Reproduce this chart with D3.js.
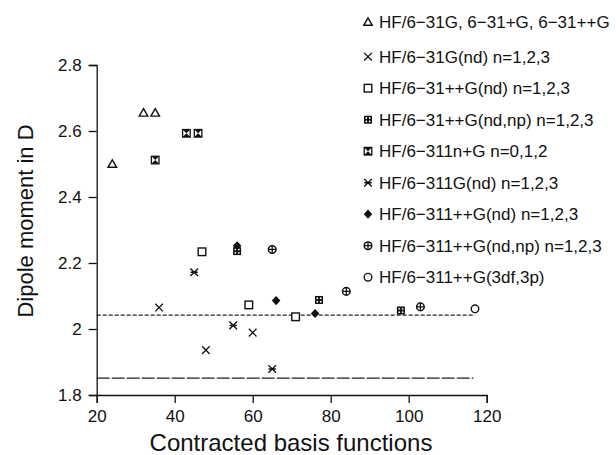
<!DOCTYPE html>
<html>
<head>
<meta charset="utf-8">
<script src="https://cdn.jsdelivr.net/npm/d3@7"></script>
<style>
  body { margin: 0; background: #fff; }
  text { font-family: "Liberation Sans", Arial, sans-serif; fill: #111; }
</style>
</head>
<body>
<svg id="chart" width="616" height="455"></svg>
<script>
// series, in legend order
var seriesNames = [
  "HF/6\u221231G, 6\u221231+G, 6\u221231++G",
  "HF/6\u221231G(nd) n=1,2,3",
  "HF/6\u221231++G(nd) n=1,2,3",
  "HF/6\u221231++G(nd,np) n=1,2,3",
  "HF/6\u2212311n+G n=0,1,2",
  "HF/6\u2212311G(nd) n=1,2,3",
  "HF/6\u2212311++G(nd) n=1,2,3",
  "HF/6\u2212311++G(nd,np) n=1,2,3",
  "HF/6\u2212311++G(3df,3p)"
];
var seriesShapes = ["triangle", "cross", "square", "dotbox", "hourglass", "star", "diamond", "circplus", "circle"];
var seriesX = [
  [24, 32, 35],
  [36, 48, 60],
  [47, 59, 71],
  [56, 77, 98],
  [35, 43, 46],
  [45, 55, 65],
  [56, 66, 76],
  [65, 84, 103],
  [117]
];
var seriesY = [
  [2.50, 2.655, 2.655],
  [2.065, 1.936, 1.989],
  [2.234, 2.073, 2.037],
  [2.236, 2.088, 2.056],
  [2.512, 2.593, 2.593],
  [2.172, 2.011, 1.879],
  [2.252, 2.086, 2.047],
  [2.241, 2.114, 2.067],
  [2.061]
];
// horizontal reference levels
var refLevels = [2.042, 1.851];
var refDash = ["4,2", "13,2"];
var refEnd = [117, 116.6];

var xTicks = [20, 40, 60, 80, 100, 120];
var yTicks = [1.8, 2, 2.2, 2.4, 2.6, 2.8];

var svg = d3.select("#chart");

var x = d3.scaleLinear().domain([20, 120]).range([96.7, 486.7]);
var y = d3.scaleLinear().domain([1.8, 2.8]).range([395, 65]);

var xAxis = svg.append("g")
    .attr("transform", "translate(0," + y(1.8) + ")")
    .call(d3.axisBottom(x).tickValues(xTicks).tickSize(8).tickPadding(7));
var yAxis = svg.append("g")
    .attr("transform", "translate(" + x(20) + ",0)")
    .call(d3.axisLeft(y).tickValues(yTicks).tickFormat(d3.format("~g")).tickSize(8).tickPadding(7));

[xAxis, yAxis].forEach(function(a) {
  a.selectAll("path, line").attr("stroke", "#111").attr("stroke-width", 1.3);
  a.selectAll("text").style("font-size", "17px").attr("font-family", null);
});

svg.append("text")
    .attr("x", 291).attr("y", 451)
    .attr("text-anchor", "middle")
    .style("font-size", "24px")
    .text("Contracted basis functions");

svg.append("text")
    .attr("transform", "translate(33,221) rotate(-90)")
    .attr("text-anchor", "middle")
    .style("font-size", "22px")
    .text("Dipole moment in D");

// reference lines
refLevels.forEach(function(v, i) {
  svg.append("line")
      .attr("x1", x(20)).attr("x2", x(refEnd[i]))
      .attr("y1", y(v)).attr("y2", y(v))
      .attr("stroke", "#222").attr("stroke-width", 1.1)
      .attr("stroke-dasharray", refDash[i]);
});

// marker drawing
function drawMarker(g, shape) {
  var k = "#111";
  if (shape == "triangle") {
    g.append("path").attr("d", "M0,-4.2L4.3,3.3L-4.3,3.3Z")
      .attr("fill", "#fff").attr("stroke", k).attr("stroke-width", 1.4);
  } else if (shape == "cross") {
    g.append("path").attr("d", "M-3.8,-3.8L3.8,3.8M-3.8,3.8L3.8,-3.8")
      .attr("stroke", k).attr("stroke-width", 1.3);
  } else if (shape == "square") {
    g.append("rect").attr("x", -3.8).attr("y", -3.8).attr("width", 7.6).attr("height", 7.6)
      .attr("fill", "#fff").attr("stroke", k).attr("stroke-width", 1.4);
  } else if (shape == "dotbox") {
    g.append("rect").attr("x", -4).attr("y", -4).attr("width", 8).attr("height", 8).attr("fill", k);
    [[-1.7, -1.7], [1.7, -1.7], [-1.7, 1.7], [1.7, 1.7]].forEach(function(p) {
      g.append("circle").attr("cx", p[0]).attr("cy", p[1]).attr("r", 0.9).attr("fill", "#fff");
    });
  } else if (shape == "hourglass") {
    g.append("rect").attr("x", -3.8).attr("y", -3.8).attr("width", 7.6).attr("height", 7.6)
      .attr("fill", "#fff").attr("stroke", k).attr("stroke-width", 1.3);
    g.append("path").attr("d", "M-3.8,-3.8H3.8L0,0ZM-3.8,3.8H3.8L0,0Z").attr("fill", k);
  } else if (shape == "star") {
    g.append("path").attr("d", "M-3.8,-3.8L3.8,3.8M-3.8,3.8L3.8,-3.8M-3.6,0H3.6")
      .attr("stroke", k).attr("stroke-width", 1.4);
  } else if (shape == "diamond") {
    g.append("path").attr("d", "M0,-4.6L4.3,0L0,4.6L-4.3,0Z").attr("fill", k);
  } else if (shape == "circplus") {
    g.append("circle").attr("r", 3.8).attr("fill", "#fff").attr("stroke", k).attr("stroke-width", 1.5);
    g.append("path").attr("d", "M-3.8,0H3.8M0,-3.8V3.8").attr("stroke", k).attr("stroke-width", 1.3);
  } else if (shape == "circle") {
    g.append("circle").attr("r", 3.8).attr("fill", "#fff").attr("stroke", k).attr("stroke-width", 1.4);
  }
}

seriesX.forEach(function(xs, i) {
  xs.forEach(function(xv, j) {
    var g = svg.append("g")
        .attr("transform", "translate(" + x(xv) + "," + y(seriesY[i][j]) + ")");
    drawMarker(g, seriesShapes[i]);
  });
});

// legend
var legendY = function(i) { return i == 0 ? 22 : 56.7 + (i - 1) * 31.5; };
seriesNames.forEach(function(name, i) {
  var g = svg.append("g").attr("transform", "translate(368," + legendY(i) + ")");
  drawMarker(g, seriesShapes[i]);
  g.append("text")
      .attr("x", 11).attr("dy", "0.36em")
      .style("font-size", "17px")
      .text(name);
});
</script>
</body>
</html>
